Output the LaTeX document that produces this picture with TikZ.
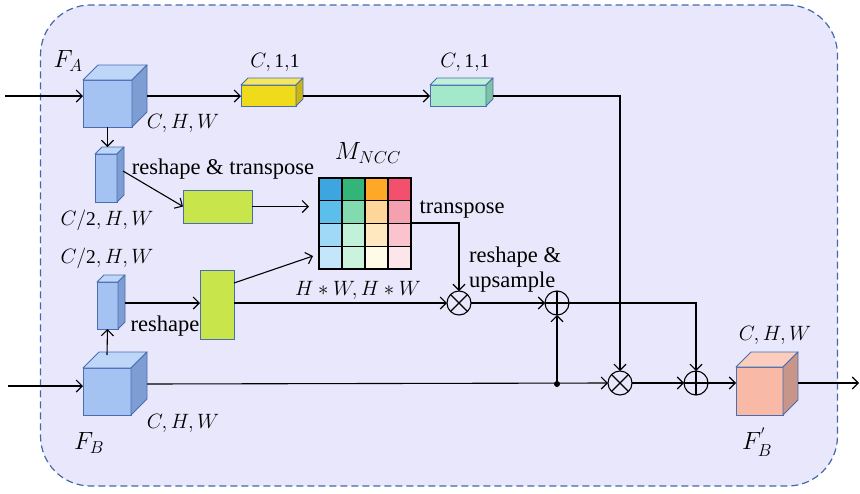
\documentclass[tikz,border=0pt]{standalone}
\usepackage{fontspec}
\setmainfont{Liberation Serif}
\usetikzlibrary{arrows.meta,calc}
\definecolor{bgfill}{HTML}{E9E7FB}
\definecolor{bgline}{HTML}{4468A8}
\definecolor{cubeline}{HTML}{4A6DB0}
\definecolor{bluf}{HTML}{A4C3F2}
\definecolor{blut}{HTML}{BED6F8}
\definecolor{blus}{HTML}{7D9DD3}
\definecolor{yelf}{HTML}{F0DB1A}
\definecolor{yelt}{HTML}{F5E660}
\definecolor{yels}{HTML}{C9B514}
\definecolor{teaf}{HTML}{A3E8C9}
\definecolor{teat}{HTML}{BFF0D9}
\definecolor{teas}{HTML}{7DC4A4}
\definecolor{salf}{HTML}{F8B9A6}
\definecolor{salt}{HTML}{FACDBF}
\definecolor{sals}{HTML}{C8958A}
\definecolor{grnf}{HTML}{C8E64B}
\definecolor{c11}{HTML}{3DA5E0}\definecolor{c12}{HTML}{33B57A}\definecolor{c13}{HTML}{FFA726}\definecolor{c14}{HTML}{F2506E}
\definecolor{c21}{HTML}{5CBEEB}\definecolor{c22}{HTML}{82DBB0}\definecolor{c23}{HTML}{FFD699}\definecolor{c24}{HTML}{F5A0B0}
\definecolor{c31}{HTML}{A0D9F7}\definecolor{c32}{HTML}{C2F1D9}\definecolor{c33}{HTML}{FFE8BF}\definecolor{c34}{HTML}{FAC3CE}
\definecolor{c41}{HTML}{C4E6FA}\definecolor{c42}{HTML}{CBF2DD}\definecolor{c43}{HTML}{FFFBE6}\definecolor{c44}{HTML}{FDE6EA}
\newcommand{\mycube}[7]{% name, x, y, w, h, d, colour prefix
  \node[face, fill=#7f, minimum width=#4pt, minimum height=#5pt] (#1) at (#2,#3) {};
  \filldraw[fill=#7t, draw=cubeline, line width=0.9pt, line join=round]
    (#1.north west) -- ++(#6,-#6) -- ++(#4,0) -- (#1.north east) -- cycle;
  \filldraw[fill=#7s, draw=cubeline, line width=0.9pt, line join=round]
    (#1.north east) -- ++(#6,-#6) -- ++(0,#5) -- (#1.south east) -- cycle;
}
\newcommand{\opotimes}[3]{%
  \node[opc] (#1) at (#2,#3) {};
  \draw[line width=1.1pt] (#1.north east) -- (#1.south west) (#1.north west) -- (#1.south east);
}
\newcommand{\opoplus}[3]{%
  \node[opc] (#1) at (#2,#3) {};
  \draw[line width=1.1pt] (#1.north) -- (#1.south) (#1.west) -- (#1.east);
}
\begin{document}
\begin{tikzpicture}[x=1pt,y=-1pt,
  face/.style={draw=cubeline, line width=0.9pt, inner sep=0pt, outer sep=0pt},
  boxg/.style={draw=cubeline, line width=0.9pt, fill=grnf, inner sep=0pt, outer sep=0pt},
  opc/.style={circle, draw, line width=1.1pt, minimum size=24pt, inner sep=0pt, outer sep=0pt},
  arr/.style={line width=1.1pt, -{Straight Barb[length=6pt,width=12pt,line width=1.1pt]}},
  txt/.style={font=\fontsize{22.5}{24}\selectfont, inner sep=0pt},
  mlab/.style={font=\fontsize{19.5}{21}\selectfont, inner sep=0pt},
  flab/.style={font=\fontsize{24}{26}\selectfont, inner sep=0pt},
]
\useasboundingbox (0,0) rectangle (860,493);
\node[draw=bgline, fill=bgfill, dash pattern=on 7pt off 4pt, line width=1.2pt,
  rounded corners=50pt, minimum width=797pt, minimum height=481pt, inner sep=0pt] (bg) at (439,245.5) {};

% cubes
\mycube{A}{107.5}{103.5}{49}{47}{15}{blu}
\mycube{Y}{268.5}{95.5}{55}{21}{7}{yel}
\mycube{T}{458}{95.5}{56}{21}{7}{tea}
\mycube{SA}{106}{178}{22}{48}{7}{blu}
\mycube{SB}{107.5}{305.5}{21}{47}{7}{blu}
\mycube{B}{107}{391.5}{48}{47}{16}{blu}
\mycube{O}{759.5}{391}{47}{48}{15}{sal}

% green boxes
\node[boxg, minimum width=69pt, minimum height=33pt] (GA) at (217.5,206.5) {};
\node[boxg, minimum width=34pt, minimum height=69pt] (GB) at (217,304.5) {};

% matrix
\node[minimum width=92pt, minimum height=91pt, inner sep=0pt, outer sep=0pt] (M) at (365,223.5) {};
\foreach \r in {1,...,4}{
  \foreach \c in {1,...,4}{
    \fill[c\r\c] ($(M.north west)+({(\c-1)*23},{(\r-1)*22.75})$) rectangle ++(23,22.75);
  }
}
\foreach \i in {1,2,3}{
  \draw[line width=1.2pt] ($(M.north west)+({\i*23},0)$) -- ++(0,91);
  \draw[line width=1.2pt] ($(M.north west)+(0,{\i*22.75})$) -- ++(92,0);
}
\draw[line width=1.2pt] (M.north west) rectangle (M.south east);

% operators
\opotimes{m1}{459}{303}
\opoplus{p1}{557}{303}
\opotimes{m2}{620}{383}
\opoplus{p2}{696}{383}

% labels
\node[flab] (lFA) at (68,61) {$F_A$};
\node[flab] (lFB) at (89,443) {$F_B$};
\node[flab] (lFO) at (757,442) {$F_B^{'}$};
\node[mlab] (lA) at (183,123) {$C,H,W$};
\node[mlab] (lB) at (183,423) {$C,H,W$};
\node[mlab] (lO) at (775,335) {$C,H,W$};
\node[mlab] (lY) at (275,62) {$C,\mathrm{1{,}1}$};
\node[mlab] (lT) at (465,62) {$C,\mathrm{1{,}1}$};
\node[mlab] (lSA) at (107,220) {$C/\mathrm{2},H,W$};
\node[mlab] (lSB) at (107,258) {$C/\mathrm{2},H,W$};
\node[mlab] (lHW) at (358,290) {$H*W,H*W$};
\node[font=\fontsize{25}{28}\selectfont, inner sep=0pt] (lM) at (368,153) {$M_{NCC}$};
\node[txt] (trA) at (223,169) {reshape \& transpose};
\node[txt] (tr) at (462,210) {transpose};
\node[txt, anchor=west, align=left] (ru) at (469,270) {reshape \&\\[1pt]upsample};
\node[txt] (rs) at (165,326) {reshape};

% coordinates
\coordinate (inA) at (5,96);
\coordinate (inB) at (8,386);
\coordinate (outO) at (859,383);
\coordinate (dot) at (557,384);

% connectors
\draw[arr] (inA) -- (inA -| A.west);
\draw[arr] (147,96) -- (Y.west |- 0,96);
\draw[arr] (Y.east |- 0,96) ++(7,0) -- (T.west |- 0,96);
\draw[arr] (T.east |- 0,96) ++(7,0) -| (m2.north);
\draw[arr] (A.south) -- ++(0,20);
\draw[arr] (123,171) -- (GA.west);
\draw[arr, shorten >=10pt] (GA.east) -- (M.west |- GA.east);
\draw[arr] (M.east |- 0,223) -| (m1.north);
\draw[arr] (B.north) ++(0,-13) -- (SB.south);
\draw[arr] (125,303) -- (GB.west |- 0,303);
\draw[arr] (GB.east |- 0,283) -- (313,256);
\draw[arr] (GB.east |- 0,303) -- (m1.west);
\draw[arr] (m1.east) -- (p1.west);
\draw[arr] (inB) -- (inB -| B.west);
\draw[arr] (147,384) -- (m2.west);
\fill (dot) circle (3pt);
\draw[arr] (dot) -- (p1.south);
\draw[arr] (p1.east) -| (p2.north);
\draw[arr] (m2.east) -- (p2.west);
\draw[arr] (p2.east) -- (O.west |- p2.east);
\draw[arr] (798,383) -- (outO);
\end{tikzpicture}
\end{document}
